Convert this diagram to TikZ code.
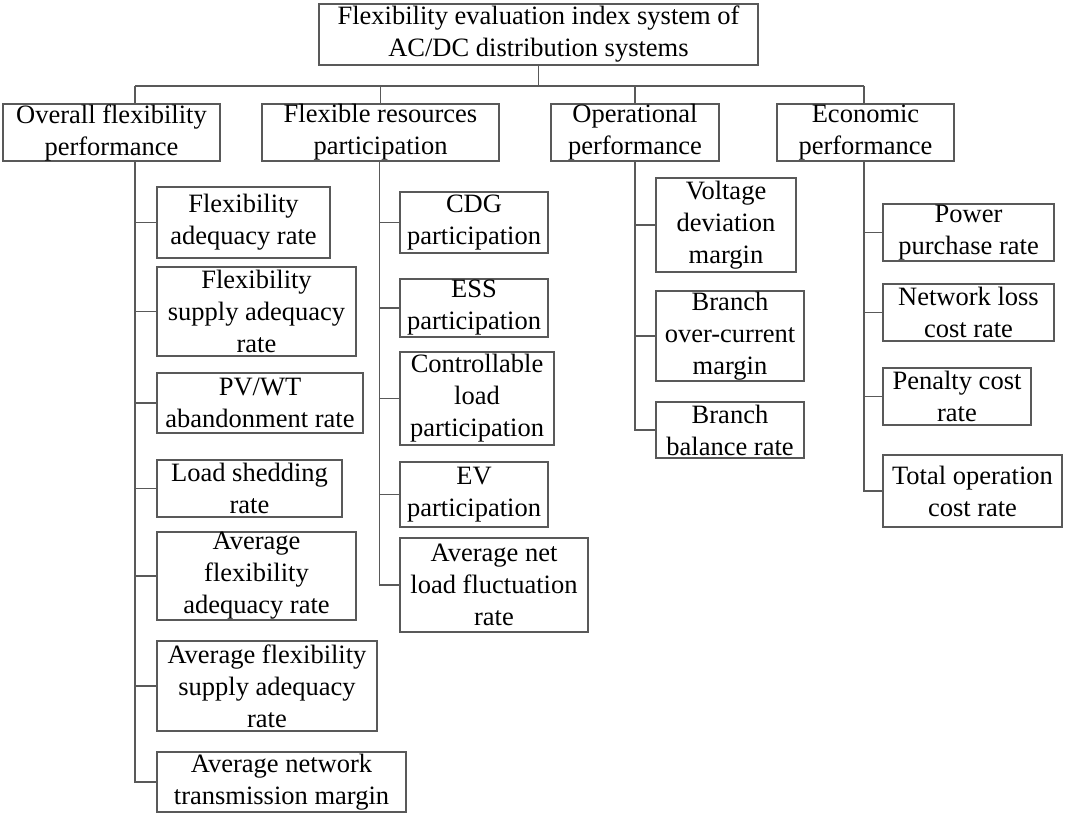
\documentclass[tikz,border=0pt]{standalone}
\usepackage{fontspec}
\setmainfont{Liberation Serif}
\begin{document}
\begin{tikzpicture}[x=1pt,y=-1pt,
  box/.style={draw=black!65, line width=1.3pt, inner sep=0pt, align=center,
    font=\fontsize{26.5}{32}\selectfont, text=black},
  conn/.style={draw=black!65, line width=1.3pt}]
\useasboundingbox[fill=white] (0,0) rectangle (1065,824);
% root
\node[box, minimum width=439, minimum height=61] (root) at (538.5,34.5) {Flexibility evaluation index system of\\AC/DC distribution systems};
% level 1
\node[box, minimum width=217, minimum height=57] (ovp) at (111.5,132.5) {Overall flexibility\\performance};
\node[box, minimum width=237, minimum height=57] (frp) at (380.5,132.5) {Flexible resources\\participation};
\node[box, minimum width=168, minimum height=57] (opp) at (635,132.5) {Operational\\performance};
\node[box, minimum width=177, minimum height=57] (ecp) at (865.5,132.5) {Economic\\performance};
% overall children
\node[box, minimum width=173, minimum height=71] (a1) at (243.5,222.5) {Flexibility\\adequacy rate};
\node[box, minimum width=199, minimum height=89] (a2) at (256.5,311.5) {Flexibility\\supply adequacy\\rate};
\node[box, minimum width=206, minimum height=60] (a3) at (260,403) {PV/WT\\abandonment rate};
\node[box, minimum width=185, minimum height=57] (a4) at (249.5,488.5) {Load shedding\\rate};
\node[box, minimum width=199, minimum height=88] (a5) at (256.5,576) {Average\\flexibility\\adequacy rate};
\node[box, minimum width=220, minimum height=90] (a6) at (267,686) {Average flexibility\\supply adequacy\\rate};
\node[box, minimum width=249, minimum height=60] (a7) at (281.5,782) {Average network\\transmission margin};
% flexible children
\node[box, minimum width=148, minimum height=61] (b1) at (474,222.5) {CDG\\participation};
\node[box, minimum width=148, minimum height=58] (b2) at (474,308) {ESS\\participation};
\node[box, minimum width=154, minimum height=93] (b3) at (477,398.5) {Controllable\\load\\participation};
\node[box, minimum width=148, minimum height=65] (b4) at (474,494.5) {EV\\participation};
\node[box, minimum width=188, minimum height=94] (b5) at (494,585) {Average net\\load fluctuation\\rate};
% operational children
\node[box, minimum width=140, minimum height=94] (c1) at (726,225) {Voltage\\deviation\\margin};
\node[box, minimum width=148, minimum height=90] (c2) at (730,336) {Branch\\over-current\\margin};
\node[box, minimum width=148, minimum height=56] (c3) at (730,430) {Branch\\balance rate};
% economic children
\node[box, minimum width=171, minimum height=57] (d1) at (968.5,232.5) {Power\\purchase rate};
\node[box, minimum width=171, minimum height=57] (d2) at (968.5,312.5) {Network loss\\cost rate};
\node[box, minimum width=148, minimum height=57] (d3) at (957,396.5) {Penalty cost\\rate};
\node[box, minimum width=179, minimum height=72] (d4) at (972.5,491) {Total operation\\cost rate};
% bus
\coordinate (jL) at (135,86);
\coordinate (jR) at (864,86);
\draw[conn] (root.south) -- (root.south |- jL);
\draw[conn] (jL) -- (jR);
\draw[conn] (jL) -- (jL |- ovp.north);
\draw[conn] (frp.north) -- (frp.north |- jL);
\draw[conn] (opp.north) -- (opp.north |- jL);
\draw[conn] (jR) -- (jR |- ecp.north);
% trunks
\coordinate (tO) at (ovp.south -| jL);
\foreach \c in {a1,a2,a3,a4,a5,a6,a7} \draw[conn] (tO) |- (\c.west);
\coordinate (tF) at ([xshift=-1]frp.south);
\foreach \c in {b1,b2,b3,b4,b5} \draw[conn] (tF) |- (\c.west);
\foreach \c in {c1,c2,c3} \draw[conn] (opp.south) |- (\c.west);
\coordinate (tE) at (ecp.south -| jR);
\foreach \c in {d1,d2,d3,d4} \draw[conn] (tE) |- (\c.west);
\end{tikzpicture}
\end{document}
